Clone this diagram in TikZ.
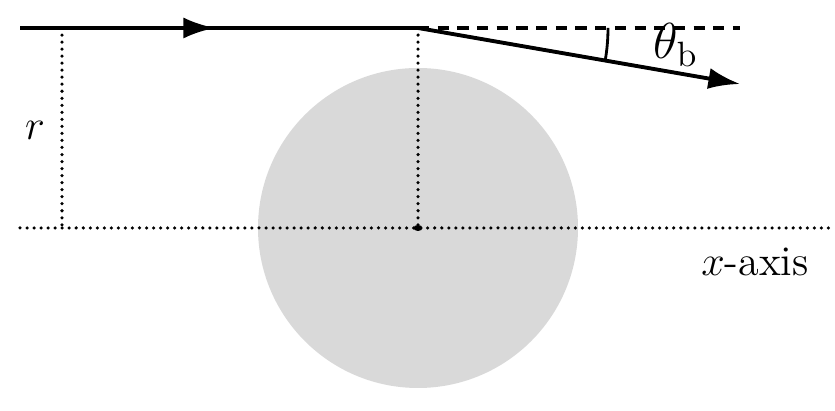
\documentclass[tikz,border=0pt]{standalone}
\usepackage{amsmath, amssymb}
\usetikzlibrary{arrows.meta, positioning}

\tikzset{
    ray/.style={line width=1.1pt},
    dotline/.style={line width=1pt, line cap=round, dash pattern=on 0pt off 2pt},
    dashline/.style={line width=1pt, dash pattern=on 3.2pt off 2.4pt}
}

\begin{document}
\begin{tikzpicture}[>={Latex[length=9pt, width=6pt]}]
            \useasboundingbox (0, 0) rectangle (8.35, 4.11);
            % Lens body
            \fill[black!15] (4.18, 1.83) circle (1.60);
            
            % Points
            \coordinate (start) at (0.20, 3.83);
            \coordinate (mid) at (2.15, 3.83);
            \coordinate (bend) at (4.18, 3.83);
            \coordinate (dashend) at (7.40, 3.83);
            \coordinate (rayend) at (7.40, 3.27);
            \coordinate (rtop) at (0.62, 3.83);
            \coordinate (rfoot) at (0.62, 1.83);
            \coordinate (centre) at (4.18, 1.83);
            \coordinate (axisleft) at (0.20, 1.83);
            \coordinate (axisright) at (8.35, 1.83);
            
            % Axis and guides
            \draw[dotline] (axisleft) -- (axisright);
            \draw[dotline] (rtop) -- (rfoot);
            \draw[dotline] (bend) -- (centre);
            \fill (centre) ellipse (0.045 and 0.03);
            \draw[dashline] (bend) -- (dashend);
            
            % Ray
            \draw[ray] (start) -- (bend);
            \draw[ray, ->] (start) -- (mid);
            \draw[ray, ->] (bend) -- (rayend);
            \draw[line width=0.8pt] (bend) ++(0:1.9) arc (0:-9.87:1.9);
            
            % Labels
            \node at (6.76, 3.66) (theta) {\Large $\theta_{\mathrm{b}}$};
            \node at (0.35, 2.81) (rlabel) {\large $r$};
            \node at (7.55, 1.49) (xlabel) {\large $x$-axis};
        \end{tikzpicture}
\end{document}
